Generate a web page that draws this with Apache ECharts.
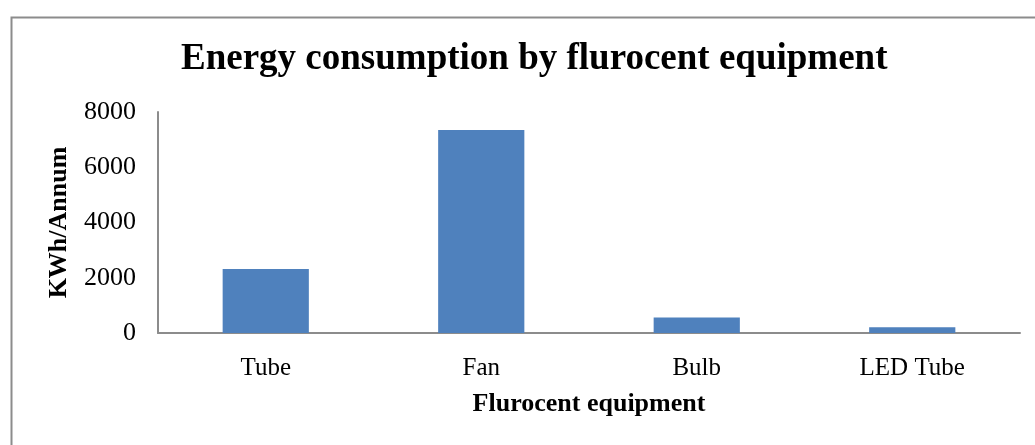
<!DOCTYPE html>
<html><head><meta charset="utf-8">
<script src="https://cdn.jsdelivr.net/npm/echarts@6/dist/echarts.min.js"></script>
<style>html,body{margin:0;padding:0;background:#fff;}#c{width:1035px;height:445px;}</style>
</head><body><div id="c"></div>
<script>
const categories = ["Tube", "Fan", "Bulb", "LED Tube"];
const consumption = [2320, 7350, 560, 210];
const yTicks = [0, 2000, 4000, 6000, 8000];
const titleText = "Energy consumption by flurocent equipment";
const yName = "KWh/Annum";
const xName = "Flurocent equipment";

const chart = echarts.init(document.getElementById('c'), null, {renderer: 'canvas'});
const serif = '"Liberation Serif", "DejaVu Serif", serif';
chart.setOption({
  animation: false,
  graphic: [{
    type: 'rect', left: 9, top: 15,
    shape: {width: 1040, height: 450},
    style: {fill: 'none', stroke: '#8c8c8c', lineWidth: 2}
  }],
  title: {
    text: titleText, left: 176, top: 36,
    textStyle: {fontFamily: serif, fontSize: 37, fontWeight: 'bold', color: '#000'}
  },
  grid: {left: 158, right: 15, top: 112, bottom: 112},
  xAxis: {
    type: 'category', data: categories,
    name: xName, nameLocation: 'middle', nameGap: 58,
    nameTextStyle: {fontFamily: serif, fontSize: 26, fontWeight: 'bold', color: '#000'},
    axisLine: {lineStyle: {color: '#8c8c8c', width: 2}},
    axisTick: {show: false},
    axisLabel: {fontFamily: serif, fontSize: 25, color: '#000', margin: 23}
  },
  yAxis: {
    type: 'value', min: yTicks[0], max: yTicks[yTicks.length - 1], interval: 2000,
    name: yName, nameLocation: 'middle', nameGap: 86,
    nameTextStyle: {fontFamily: serif, fontSize: 26, fontWeight: 'bold', color: '#000'},
    axisLine: {show: true, lineStyle: {color: '#8c8c8c', width: 2}},
    axisTick: {show: false},
    splitLine: {show: false},
    axisLabel: {fontFamily: serif, fontSize: 26, color: '#000', margin: 22,
      formatter: function (v) { return String(v); }}
  },
  series: [{
    type: 'bar', data: consumption, barWidth: '40%',
    itemStyle: {color: '#4f81bd'}
  }]
});
</script></body></html>
